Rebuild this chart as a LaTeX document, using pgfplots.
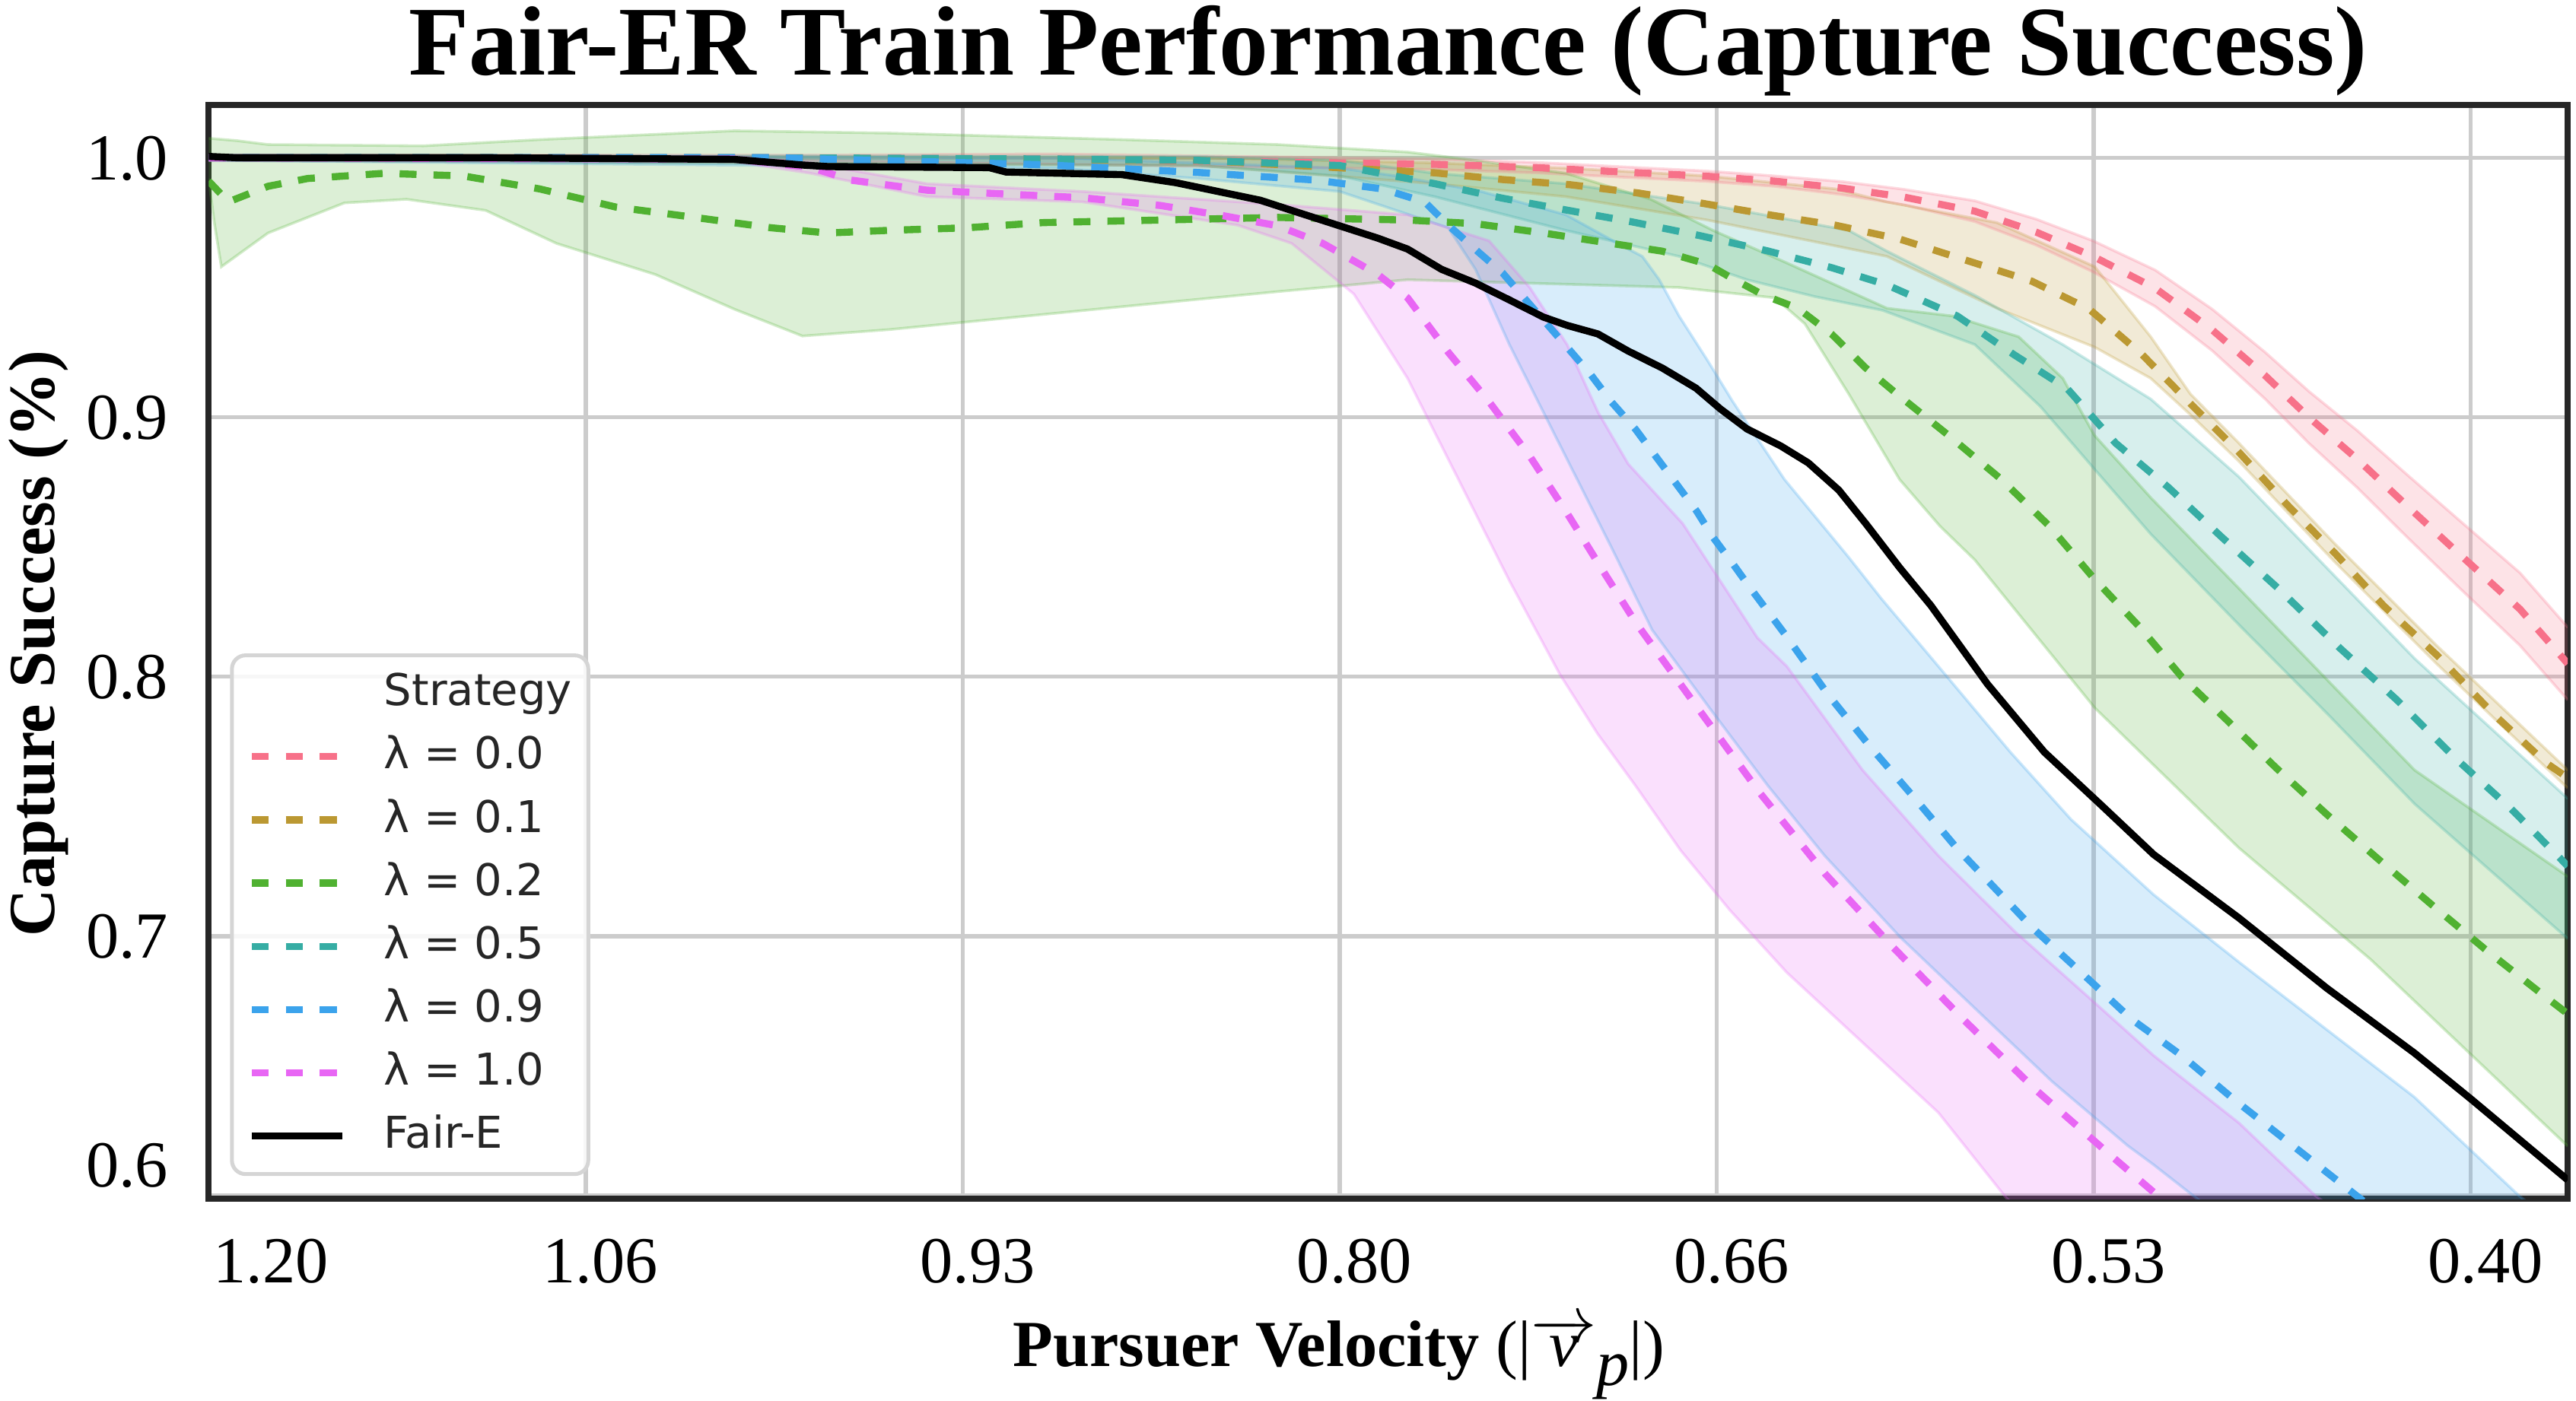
\documentclass[border=0pt]{standalone}
\usepackage{fontspec}
\setmainfont{Liberation Serif}
\newfontfamily\legfont{DejaVu Sans}
\usepackage{pgfplots}
\pgfplotsset{compat=1.18}
\usepgfplotslibrary{fillbetween}
\definecolor{c0}{HTML}{F77189}
\definecolor{c1}{HTML}{BB9832}
\definecolor{c2}{HTML}{50B131}
\definecolor{c3}{HTML}{36ADA4}
\definecolor{c4}{HTML}{3BA3EC}
\definecolor{c5}{HTML}{E866F4}
\definecolor{gridgray}{HTML}{CCCCCC}
\definecolor{framec}{HTML}{262626}
\definecolor{legendgray}{HTML}{D5D5D5}
\definecolor{legtext}{HTML}{262626}
\pgfplotsset{
  bandedge/.style={draw=#1, draw opacity=0.25, line width=0.5pt, forget plot},
  bandfill/.style={fill=#1, fill opacity=0.2, draw=none, forget plot},
  meanline/.style={color=#1, line width=1.3pt, dash pattern=on 3.1pt off 3.1pt},
}
\begin{document}
\begin{tikzpicture}
\begin{axis}[
  name=ax, scale only axis, width=430.8pt, height=199.8pt,
  x dir=reverse, xmin=0.3657, xmax=1.2, ymin=0.5987, ymax=1.0203,
  no markers,
  xtick={1.2,1.0666667,0.9333333,0.8,0.6666667,0.5333333,0.4},
  xticklabels={\hspace*{17.4pt}1.20,1.06,0.93,0.80,0.66,0.53,0.40},
  ytick={0.6,0.7,0.8,0.9,1.0},
  yticklabels={\raisebox{5.7pt}{0.6},0.7,0.8,0.9,1.0},
  xticklabel style={font=\fontsize{12}{14}\selectfont, anchor=base, inner sep=0pt, yshift=-15.3pt, xshift=2.7pt},
  yticklabel style={font=\fontsize{12}{14}\selectfont, anchor=base east, inner sep=0pt, xshift=-7.2pt, yshift=-4.05pt},
  major tick length=0pt,
  grid=major, major grid style={color=gridgray, line width=0.75pt},
  axis line style={color=framec, line width=1.1pt},
  xlabel={Pursuer Velocity {\normalfont(|$\overrightarrow{\mbox{\itshape v}}$\raisebox{-3.5pt}{\itshape p}|)}},
  xlabel style={font=\fontsize{12}{14}\selectfont\bfseries, at={(axis description cs:0.479,-0.15315)}, anchor=base, inner sep=0pt},
  ylabel={Capture Success (\%)},
  ylabel style={font=\fontsize{12}{14}\selectfont\bfseries, at={(axis description cs:-0.06546,0.508)}, anchor=base, inner sep=0pt},
  legend style={at={(0.00905,0.021)}, anchor=south west, draw=legendgray, line width=0.7pt, rounded corners=2.5pt, fill=white, fill opacity=0.85, text opacity=1, font=\legfont\fontsize{8}{9.6}\selectfont, text=legtext, inner xsep=3pt, inner ysep=3pt, row sep=3.65pt, column sep=7pt, nodes={inner sep=0pt, text height=6.2pt, text depth=1.7pt}},
  legend cell align=left,
  legend image code/.code={\draw[#1] (0pt,0pt) -- (16.5pt,0pt);},
]
\addlegendimage{empty legend}
\addlegendentry{Strategy}

% ---------- bands ----------
% lambda = 0.0
\addplot[bandedge=c0, name path=u0] coordinates {(1.2,1.001) (1.0,1.001) (0.9,1.0015) (0.7664,0.9995) (0.7304,0.9982) (0.6943,0.9962) (0.6703,0.9949) (0.6463,0.993) (0.6223,0.9908) (0.6003,0.9878) (0.5754,0.9834) (0.5536,0.9763) (0.5334,0.9679) (0.5116,0.9567) (0.4914,0.9416) (0.4728,0.9251) (0.4572,0.9099) (0.4401,0.8948) (0.4230,0.8783) (0.4043,0.8605) (0.3826,0.840) (0.3657,0.819)};
\addplot[bandedge=c0, name path=l0] coordinates {(1.2,0.999) (1.0,0.999) (0.9,0.9975) (0.7664,0.9955) (0.7304,0.9942) (0.6943,0.9922) (0.6703,0.9909) (0.6463,0.989) (0.6223,0.9858) (0.6003,0.9818) (0.5754,0.9754) (0.5536,0.9663) (0.5334,0.9559) (0.5116,0.9427) (0.4914,0.9256) (0.4728,0.9071) (0.4572,0.8899) (0.4401,0.8728) (0.4230,0.8543) (0.4043,0.8345) (0.3826,0.812) (0.3657,0.791)};
\addplot[bandfill=c0] fill between[of=u0 and l0];
% lambda = 0.1
\addplot[bandedge=c1, name path=u1] coordinates {(1.2,1.001) (0.85,1.0) (0.7664,0.998) (0.72,0.996) (0.67,0.993) (0.6247,0.988) (0.6065,0.983) (0.5676,0.975) (0.533,0.958) (0.5132,0.931) (0.4992,0.909) (0.482,0.890) (0.4479,0.851) (0.4121,0.812) (0.3657,0.764)};
\addplot[bandedge=c1, name path=l1] coordinates {(1.2,0.999) (0.85,0.997) (0.7664,0.990) (0.72,0.985) (0.67,0.976) (0.62,0.965) (0.6065,0.962) (0.5676,0.942) (0.533,0.927) (0.5132,0.915) (0.4992,0.901) (0.482,0.883) (0.4479,0.844) (0.4121,0.805) (0.3657,0.757)};
\addplot[bandfill=c1] fill between[of=u1 and l1];
% lambda = 0.2
\addplot[bandedge=c2, name path=u2] coordinates {(1.2,1.0075) (1.19,1.0066) (1.179,1.0051) (1.124,1.0046) (1.083,1.007) (1.014,1.0104) (0.959,1.0095) (0.877,1.007) (0.822,1.0051) (0.776,1.0022) (0.752,0.999) (0.72,0.994) (0.69,0.984) (0.668,0.972) (0.643,0.960) (0.6065,0.942) (0.5832,0.939) (0.5599,0.931) (0.5443,0.915) (0.5331,0.893) (0.5132,0.869) (0.482,0.834) (0.451,0.799) (0.4199,0.764) (0.3657,0.723)};
\addplot[bandedge=c2, name path=l2] coordinates {(1.2,0.992) (1.198,0.975) (1.1955,0.958) (1.179,0.971) (1.152,0.9826) (1.130,0.984) (1.102,0.9797) (1.077,0.967) (1.042,0.955) (1.014,0.9416) (0.990,0.9313) (0.959,0.9338) (0.932,0.9367) (0.877,0.9426) (0.822,0.9484) (0.776,0.953) (0.680,0.950) (0.646,0.946) (0.6355,0.936) (0.62,0.909) (0.602,0.876) (0.5877,0.858) (0.5754,0.845) (0.533,0.788) (0.482,0.734) (0.4354,0.691) (0.3657,0.619)};
\addplot[bandfill=c2] fill between[of=u2 and l2];
% lambda = 0.5
\addplot[bandedge=c3, name path=u3] coordinates {(1.2,1.001) (0.85,1.0005) (0.80,0.999) (0.7664,0.994) (0.72,0.990) (0.67,0.982) (0.62,0.972) (0.6065,0.964) (0.5754,0.947) (0.5443,0.928) (0.5132,0.907) (0.482,0.877) (0.451,0.842) (0.4199,0.807) (0.3657,0.753)};
\addplot[bandedge=c3, name path=l3] coordinates {(1.2,0.999) (0.85,0.997) (0.80,0.993) (0.7664,0.985) (0.72,0.972) (0.68,0.962) (0.656,0.953) (0.632,0.9465) (0.608,0.9412) (0.5754,0.928) (0.5521,0.904) (0.5331,0.880) (0.5132,0.855) (0.482,0.820) (0.451,0.786) (0.4199,0.751) (0.3657,0.699)};
\addplot[bandfill=c3] fill between[of=u3 and l3];
% lambda = 0.9
\addplot[bandedge=c4, name path=u4] coordinates {(1.2,1.001) (0.90,1.0) (0.80,0.996) (0.78,0.993) (0.75,0.987) (0.72,0.978) (0.70,0.966) (0.693,0.962) (0.687,0.953) (0.680,0.939) (0.670,0.922) (0.661,0.906) (0.6427,0.876) (0.620,0.846) (0.6084,0.830) (0.5883,0.804) (0.5629,0.771) (0.5414,0.745) (0.5122,0.716) (0.482,0.690) (0.451,0.664) (0.42,0.638) (0.383,0.60) (0.3657,0.585)};
\addplot[bandedge=c4, name path=l4] coordinates {(1.2,0.999) (0.90,0.996) (0.85,0.992) (0.80,0.987) (0.7616,0.973) (0.752,0.957) (0.740,0.928) (0.728,0.902) (0.716,0.876) (0.704,0.850) (0.6895,0.818) (0.6686,0.787) (0.6486,0.758) (0.6285,0.731) (0.6017,0.6995) (0.5749,0.6717) (0.5481,0.644) (0.5214,0.6193) (0.5123,0.612) (0.49,0.593) (0.47,0.58)};
\addplot[bandfill=c4] fill between[of=u4 and l4];
% lambda = 1.0
\addplot[bandedge=c5, name path=u5] coordinates {(1.2,1.001) (1.014,1.0005) (0.987,0.998) (0.946,0.990) (0.891,0.987) (0.8634,0.985) (0.822,0.982) (0.776,0.978) (0.7472,0.968) (0.7328,0.950) (0.7196,0.928) (0.7087,0.902) (0.698,0.882) (0.6787,0.859) (0.6655,0.837) (0.6523,0.815) (0.6419,0.804) (0.6151,0.764) (0.5883,0.731) (0.5615,0.702) (0.5347,0.676) (0.5122,0.654) (0.482,0.628) (0.455,0.600) (0.44,0.588)};
\addplot[bandedge=c5, name path=l5] coordinates {(1.2,0.999) (1.014,0.9985) (0.987,0.994) (0.946,0.985) (0.891,0.983) (0.836,0.974) (0.817,0.967) (0.795,0.9475) (0.776,0.915) (0.764,0.889) (0.752,0.863) (0.740,0.837) (0.7222,0.801) (0.7088,0.778) (0.6954,0.758) (0.6794,0.733) (0.662,0.710) (0.6419,0.686) (0.6151,0.659) (0.5883,0.632) (0.5642,0.599) (0.55,0.585)};
\addplot[bandfill=c5] fill between[of=u5 and l5];

% ---------- mean lines ----------
\addplot[meanline=c0] coordinates {(1.2,1.0) (1.0,1.0) (0.9,0.9995) (0.7664,0.9975) (0.7304,0.9962) (0.6943,0.9942) (0.6703,0.9929) (0.6463,0.991) (0.6223,0.9883) (0.6003,0.9848) (0.5754,0.9794) (0.5536,0.9713) (0.5334,0.9619) (0.5116,0.9497) (0.4914,0.9336) (0.4728,0.9161) (0.4572,0.8999) (0.4401,0.8838) (0.4230,0.8663) (0.4043,0.8475) (0.3826,0.826) (0.3657,0.805)};
\addlegendentry{λ = 0.0}
\addplot[meanline=c1] coordinates {(1.2,1.0) (1.0,0.9998) (0.85,0.999) (0.7664,0.9942) (0.7424,0.9916) (0.7184,0.9896) (0.6943,0.9864) (0.6715,0.9824) (0.6475,0.9779) (0.6247,0.974) (0.6018,0.9686) (0.5785,0.9605) (0.5552,0.9524) (0.535,0.9417) (0.5163,0.9242) (0.4992,0.9053) (0.482,0.8865) (0.465,0.8663) (0.4479,0.8474) (0.4308,0.8273) (0.4121,0.8084) (0.3919,0.7855) (0.3733,0.7667) (0.3657,0.761)};
\addlegendentry{λ = 0.1}
\addplot[meanline=c2] coordinates {(1.2,0.991) (1.193,0.983) (1.179,0.989) (1.165,0.992) (1.138,0.994) (1.110,0.993) (1.083,0.988) (1.056,0.981) (1.028,0.977) (1.001,0.973) (0.981,0.971) (0.960,0.972) (0.932,0.973) (0.905,0.975) (0.863,0.976) (0.822,0.977) (0.776,0.976) (0.752,0.9746) (0.728,0.971) (0.704,0.967) (0.686,0.964) (0.670,0.959) (0.662,0.954) (0.650,0.947) (0.638,0.942) (0.626,0.932) (0.614,0.919) (0.603,0.909) (0.5847,0.893) (0.566,0.876) (0.549,0.858) (0.5334,0.838) (0.517,0.819) (0.5023,0.800) (0.486,0.783) (0.469,0.765) (0.451,0.747) (0.432,0.729) (0.4137,0.712) (0.395,0.695) (0.3764,0.679) (0.3657,0.670)};
\addlegendentry{λ = 0.2}
\addplot[meanline=c3] coordinates {(1.2,1.0) (1.0,1.0) (0.90,0.9995) (0.85,0.999) (0.80,0.997) (0.7664,0.990) (0.7424,0.9844) (0.7196,0.9798) (0.6967,0.9753) (0.6727,0.970) (0.6487,0.9641) (0.6259,0.9576) (0.6065,0.951) (0.5816,0.939) (0.5614,0.924) (0.5427,0.911) (0.5256,0.890) (0.507,0.873) (0.4883,0.854) (0.4681,0.834) (0.4463,0.811) (0.4261,0.791) (0.4059,0.769) (0.3857,0.749) (0.3657,0.727)};
\addlegendentry{λ = 0.5}
\addplot[meanline=c4] coordinates {(1.2,1.0) (1.0,1.0) (0.9046,0.9973) (0.8497,0.9943) (0.8085,0.9914) (0.785,0.988) (0.77,0.983) (0.7616,0.974) (0.7508,0.9635) (0.7424,0.9556) (0.7352,0.9465) (0.7268,0.936) (0.7184,0.9255) (0.7112,0.9164) (0.704,0.906) (0.6955,0.8955) (0.6883,0.885) (0.6811,0.8745) (0.6739,0.864) (0.6679,0.8536) (0.6607,0.8431) (0.6547,0.834) (0.6419,0.8154) (0.6271,0.7928) (0.6124,0.773) (0.5963,0.7527) (0.5816,0.7337) (0.5548,0.703) (0.5374,0.6856) (0.52,0.668) (0.5023,0.654) (0.4837,0.637) (0.465,0.621) (0.4463,0.605) (0.43,0.591)};
\addlegendentry{λ = 0.9}
\addplot[meanline=c5] coordinates {(1.2,1.0) (1.014,0.9995) (0.987,0.9963) (0.973,0.9914) (0.946,0.9875) (0.918,0.986) (0.891,0.9846) (0.8634,0.9816) (0.8414,0.9777) (0.822,0.9738) (0.806,0.967) (0.7865,0.955) (0.776,0.946) (0.7616,0.925) (0.7472,0.906) (0.7328,0.885) (0.7196,0.863) (0.7076,0.842) (0.6954,0.821) (0.6727,0.7869) (0.6512,0.7549) (0.6285,0.7242) (0.6044,0.6958) (0.579,0.6674) (0.5535,0.6404) (0.5267,0.6149) (0.5173,0.6061) (0.50,0.59)};
\addlegendentry{λ = 1.0}
\addplot[black, line width=1.3pt] coordinates {(1.2,1.0005) (1.19,1.0) (1.1,1.0) (1.0144,0.9994) (0.99,0.9972) (0.981,0.9966) (0.924,0.9962) (0.918,0.9945) (0.877,0.9935) (0.858,0.9904) (0.828,0.9836) (0.817,0.9797) (0.803,0.9748) (0.7865,0.969) (0.776,0.9648) (0.764,0.957) (0.752,0.9517) (0.74,0.9452) (0.728,0.9386) (0.7196,0.9354) (0.7087,0.9321) (0.698,0.9255) (0.686,0.919) (0.674,0.9112) (0.6655,0.9033) (0.656,0.8955) (0.644,0.8889) (0.6343,0.8824) (0.6235,0.8719) (0.6139,0.8589) (0.6019,0.8419) (0.591,0.8275) (0.5709,0.7971) (0.5508,0.7709) (0.5307,0.7505) (0.5122,0.7315) (0.482,0.707) (0.451,0.680) (0.42,0.655) (0.3997,0.637) (0.3657,0.606)};
\addlegendentry{Fair-E}
\end{axis}
\node[anchor=base, inner sep=0pt, font=\fontsize{18}{21}\selectfont\bfseries] at ([yshift=5.55pt]ax.north) {Fair-ER Train Performance (Capture Success)};
\pgfresetboundingbox
\path[use as bounding box] ([xshift=-38.1pt,yshift=-36.9pt]ax.south west) rectangle ([xshift=1.5pt,yshift=19.2pt]ax.north east);
\end{tikzpicture}
\end{document}
